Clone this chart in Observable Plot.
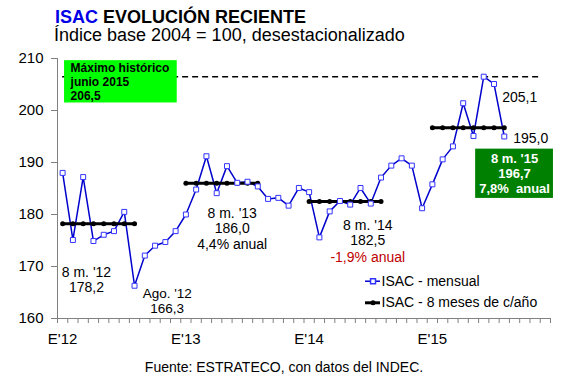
<!DOCTYPE html>
<html><head><meta charset="utf-8">
<script src="https://cdn.jsdelivr.net/npm/d3@7"></script>
<script src="https://cdn.jsdelivr.net/npm/@observablehq/plot@0.6"></script>
<style>
body{margin:0;background:#fff;font-family:"Liberation Sans",Arial,sans-serif;}
#wrap{position:relative;width:568px;height:378px;overflow:hidden;background:#fff}
#t1{position:absolute;left:55px;top:8px;font-size:18px;font-weight:bold;line-height:18px;white-space:nowrap}
#t2{position:absolute;left:54px;top:27px;font-size:18px;line-height:17px;white-space:nowrap}
#chart{position:absolute;left:0;top:48px}
#cap{position:absolute;left:0;width:568px;top:360px;text-align:center;font-size:14px;line-height:15px}
</style></head><body>
<div id="wrap">
<div id="t1"><span style="color:#0000e6">ISAC</span> EVOLUCIÓN RECIENTE</div>
<div id="t2">Índice base 2004 = 100, desestacionalizado</div>
<div id="chart"></div>
<div id="cap">Fuente: ESTRATECO, con datos del INDEC.</div>
</div>
<script>
// ---- data ----
const years = [2012, 2013, 2014, 2015];
// ISAC mensual, Jan 2012 .. Aug 2015
const isacMensual = [
  188.0, 175.1, 187.2, 174.9, 176.1, 176.8, 180.5, 166.3, 172.1, 174.0, 174.7, 176.8,
  180.0, 184.8, 191.2, 184.1, 189.3, 186.1, 186.3, 185.4, 183.0, 183.2, 181.7, 185.1,
  184.3, 175.6, 180.6, 182.6, 181.9, 185.1, 182.1, 187.1, 189.4, 190.8, 189.4, 181.2,
  185.8, 190.6, 193.1, 201.4, 195.1, 206.5, 205.1, 195.0
];
const avg8 = [178.2, 186.0, 182.5, 196.7];
const monthsInAvg = 8;
const nMonthsAxis = 48;
const xTickLabels = ["E'12", "E'13", "E'14", "E'15"];
const yTicks = [160, 170, 180, 190, 200, 210];
const maxHist = 206.5;
const legendLabels = ["ISAC - mensual", "ISAC - 8 meses de c/año"];

// ---- derived tables ----
const monthly = isacMensual.map((v, i) => ({i, v}));
const avgPts = years.flatMap((yr, k) => d3.range(monthsInAvg).map(m => ({i: k * 12 + m, v: avg8[k], yr})));
const fmt = v => v.toFixed(1).replace(".", ",");

// ---- annotation layout (label placement) ----
const annotations = [
  {text: "8 m. '12\n" + fmt(avg8[0]), x: 2.32, y: 167.46, lh: 1.07, anchor: "middle", size: 14},
  {text: "Ago. '12\n" + fmt(isacMensual[7]), x: 10.18, y: 163.40, lh: 1.1, anchor: "middle", size: 13.5},
  {text: "8 m. '13\n" + fmt(avg8[1]) + "\n4,4% anual", x: 16.51, y: 177.38, lh: 1.107, anchor: "middle", size: 14},
  {text: "8 m. '14\n" + fmt(avg8[2]), x: 29.71, y: 176.44, lh: 1.07, anchor: "middle", size: 14},
  {text: "-1,9% anual", x: 29.71, y: 171.79, lh: 1, anchor: "middle", size: 14, fill: "#c00000"},
  {text: fmt(isacMensual[42]), x: 42.8, y: 202.44, lh: 1, anchor: "start", size: 14},
  {text: fmt(isacMensual[43]), x: 43.87, y: 194.67, lh: 1, anchor: "start", size: 14},
  {text: "Máximo histórico\njunio 2015\n" + fmt(maxHist), x: 0.77, y: 205.62, lh: 1.18, anchor: "start", size: 12, weight: "bold", cls: "boxmax"},
  {text: "8 m. '15\n" + fmt(avg8[3]) + "\n7,8%\u00a0 anual", x: 44.0, y: 187.9, lh: 1.165, anchor: "middle", size: 13, weight: "bold", fill: "white", cls: "box15"}
];
const annMarks = annotations.map(a =>
  Plot.text([a.text], {x: a.x, y: a.y, text: d => d, textAnchor: a.anchor, lineAnchor: "middle", lineHeight: a.lh,
    fontSize: a.size, fontWeight: a.weight || "normal", fill: a.fill || "black", className: a.cls}));

const leg = {x1: 29.49, x2: 30.95, xm: 30.22, xt: 31.05, y1: 167.17, y2: 163.02};

const plot = Plot.plot({
  width: 568, height: 302,
  marginLeft: 57, marginRight: 18, marginTop: 10, marginBottom: 32,
  style: {fontFamily: '"Liberation Sans", Arial, sans-serif', fontSize: "15px", background: "white", color: "black", overflow: "visible"},
  x: {domain: [-0.5, nMonthsAxis - 0.5], label: null},
  y: {domain: [yTicks[0], yTicks[yTicks.length - 1]], label: null},
  marks: [
    Plot.ruleY([maxHist], {x1: 0, x2: 46.5, stroke: "black", strokeWidth: 1.5, strokeDasharray: "6,4"}),
    Plot.ruleX([-0.5], {stroke: "#808080", strokeWidth: 1}),
    Plot.ruleY([yTicks[0]], {stroke: "#808080", strokeWidth: 1}),
    Plot.axisY({ticks: yTicks, tickSize: 6, tickPadding: 8, stroke: "#808080", fontSize: 15, label: null}),
    Plot.axisX({ticks: d3.range(-0.5, nMonthsAxis, 1), tickSize: 5, tickFormat: () => "", stroke: "#808080", label: null}),
    Plot.axisX({ticks: xTickLabels.map((_, k) => k * 12), tickSize: 0, tickPadding: 15, tickFormat: d => xTickLabels[d / 12], fontSize: 15, label: null}),
    Plot.line(monthly, {x: "i", y: "v", stroke: "#0000cc", strokeWidth: 1.5}),
    Plot.line(avgPts, {x: "i", y: "v", z: "yr", stroke: "black", strokeWidth: 3}),
    Plot.dot(avgPts, {x: "i", y: "v", r: 2.5, fill: "black"}),
    Plot.dot(monthly, {x: "i", y: "v", symbol: "square", r: 2.8, stroke: "#3333ff", fill: "white", strokeWidth: 1}),
    // legend
    Plot.ruleY([leg.y1], {x1: leg.x1, x2: leg.x2, stroke: "#0000cc", strokeWidth: 1.5}),
    Plot.dot([0], {x: leg.xm, y: leg.y1, symbol: "square", r: 2.8, stroke: "#3333ff", fill: "white"}),
    Plot.text([legendLabels[0]], {x: leg.xt, y: leg.y1, text: d => d, textAnchor: "start", fontSize: 14}),
    Plot.ruleY([leg.y2], {x1: leg.x1, x2: leg.x2, stroke: "black", strokeWidth: 3}),
    Plot.dot([0], {x: leg.xm, y: leg.y2, r: 2.5, fill: "black"}),
    Plot.text([legendLabels[1]], {x: leg.xt, y: leg.y2, text: d => d, textAnchor: "start", fontSize: 14}),
    ...annMarks
  ]
});
document.getElementById("chart").append(plot);

// background boxes behind boxed annotations
function boxIt(cls, fill, pad) {
  const g = plot.querySelector("g." + cls);
  if (!g) return;
  const b = g.getBBox();
  const r = document.createElementNS("http://www.w3.org/2000/svg", "rect");
  r.setAttribute("x", b.x - pad[3]); r.setAttribute("y", b.y - pad[0]);
  r.setAttribute("width", b.width + pad[1] + pad[3]); r.setAttribute("height", b.height + pad[0] + pad[2]);
  r.setAttribute("fill", fill);
  g.parentNode.insertBefore(r, g);
}
boxIt("boxmax", "#00ff00", [0, 8, 0, 5]);
boxIt("box15", "#008000", [2, 3.5, 2, 3.5]);
</script>
</body></html>
